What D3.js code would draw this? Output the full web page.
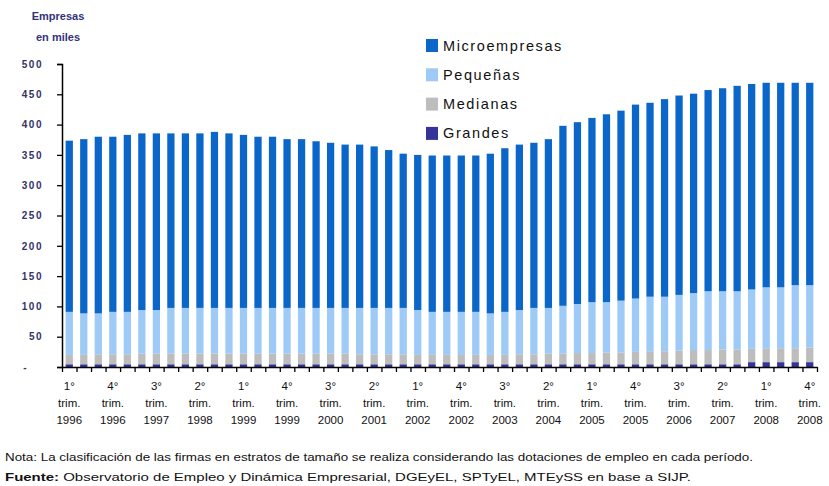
<!DOCTYPE html>
<html>
<head>
<meta charset="utf-8">
<script src="https://cdn.jsdelivr.net/npm/d3@7"></script>
<style>
  body { margin: 0; background: #fff; }
  svg { display: block; font-family: "Liberation Sans", Arial, sans-serif; }
</style>
</head>
<body>
<div id="chart"></div>
<script>
// Quarters 1996 Q1 .. 2008 Q4
const years = [1996, 1997, 1998, 1999, 2000, 2001, 2002, 2003, 2004, 2005, 2006, 2007, 2008];
const quarters = [];
years.forEach(y => [1, 2, 3, 4].forEach(q => quarters.push(`${q}|${y}`)));

// Labelled quarters on the x axis (every third one)
const labelledQuarters = ["1|1996", "4|1996", "3|1997", "2|1998", "1|1999", "4|1999", "3|2000", "2|2001",
  "1|2002", "4|2002", "3|2003", "2|2004", "1|2005", "4|2005", "3|2006", "2|2007", "1|2008", "4|2008"];

// Values in thousands of firms
const grandes = [4.5, 4.5, 4.5, 4.5, 4.5, 4.5, 4.5, 4.5, 4.5, 4.5, 4.5, 4.5, 4.5,
  4.5, 4.5, 4.5, 4.5, 4.5, 4.5, 4.5, 4.5, 4.5, 4.5, 4.5, 4.5, 4.5,
  4.5, 4.5, 4.5, 4.5, 4.5, 4.5, 4.5, 4.5, 4.5, 4.5, 4.5, 4.5, 4.5,
  4.5, 4.5, 4.5, 4.5, 4.5, 4.5, 4.5, 4.5, 8, 8, 8, 8, 8];
const medianas = [15.5, 15.5, 16.5, 16.5, 16.5, 17.5, 17.5, 17.5, 17.5, 17.5, 17.5, 17.5, 17.5,
  17.5, 17.5, 17.5, 17.5, 17.5, 17.5, 17.5, 16.5, 16.5, 16.5, 16.5, 15.5, 15.5,
  15.5, 15.5, 15.5, 15.5, 15.5, 16.5, 16.5, 17.5, 17.5, 18.5, 18.5, 19.5, 19.5,
  20.5, 21.5, 21.5, 22.5, 23.5, 23.5, 24.5, 24.5, 22, 22, 23, 23, 24];
const pequenas = [71, 68.5, 67.5, 70, 70, 72, 72, 75.5, 75.5, 75.5, 75.5, 75.5, 75.5,
  75.5, 75.5, 75.5, 75.5, 75.5, 75.5, 75.5, 76.5, 76.5, 76.5, 76.5, 74, 71,
  71, 71, 71, 68.5, 71, 73, 76.5, 75.5, 79, 81, 84, 83, 85.5,
  88, 90, 90, 92, 94, 97, 96, 96, 98, 101.5, 100.5, 104, 103];
const micro = [282.5, 287.5, 291.5, 289, 292, 291.5, 291.5, 288, 288, 288, 290.5, 288, 285.5,
  282.5, 282.5, 278.5, 278.5, 275, 272.5, 269.5, 269.5, 266.5, 260.5, 254.5, 256, 258,
  258, 258, 258, 263.5, 270, 273, 272.5, 278.5, 297, 300, 304, 310, 313.5,
  320, 320, 326, 329, 329, 332, 335, 339, 339, 337.5, 337.5, 334, 334];

const yTicks = [0, 50, 100, 150, 200, 250, 300, 350, 400, 450, 500];

const seriesNames = ["Grandes", "Medianas", "Pequeñas", "Microempresas"];
const legendOrder = ["Microempresas", "Pequeñas", "Medianas", "Grandes"];
const colors = {
  "Microempresas": "#0a66c8",
  "Pequeñas": "#9dcaf6",
  "Medianas": "#bdbdbd",
  "Grandes": "#333399"
};

const noteText = "Nota: La clasificación de las firmas en estratos de tamaño se realiza considerando las dotaciones de empleo en cada período.";
const sourceBold = "Fuente:";
const sourceText = " Observatorio de Empleo y Dinámica Empresarial, DGEyEL, SPTyEL, MTEySS en base a SIJP.";

// Build table for the stack
const table = quarters.map((q, i) => ({
  q: q,
  "Grandes": grandes[i],
  "Medianas": medianas[i],
  "Pequeñas": pequenas[i],
  "Microempresas": micro[i]
}));

const width = 829;
const height = 486;
const plot = {left: 62, right: 817, top: 64, bottom: 367};

const svg = d3.select("#chart")
  .append("svg")
    .attr("width", width)
    .attr("height", height);

// Scales
const x = d3.scaleBand()
  .domain(quarters)
  .range([plot.left, plot.right])
  .paddingInner(0.5)
  .paddingOuter(0.25);

const xEdges = d3.scaleLinear()
  .domain([0, quarters.length])
  .range([plot.left, plot.right]);

const y = d3.scaleLinear()
  .domain([0, 500])
  .range([plot.bottom, plot.top]);

const stack = d3.stack().keys(seriesNames);
const stacked = stack(table);

// Bars
svg.append("g")
  .selectAll("g")
  .data(stacked)
  .join("g")
    .attr("fill", d => colors[d.key])
  .selectAll("rect")
  .data(d => d)
  .join("rect")
    .attr("x", d => x(d.data.q))
    .attr("width", x.bandwidth())
    .attr("y", d => y(d[1]))
    .attr("height", d => y(d[0]) - y(d[1]));

// Y axis
const yAxis = svg.append("g")
  .attr("class", "axis-y")
  .attr("transform", `translate(${plot.left},0)`)
  .call(d3.axisLeft(y).tickValues(yTicks).tickSize(5).tickPadding(14)
    .tickFormat(d => d === 0 ? "-" : d3.format("d")(d)));
yAxis.select(".domain").attr("stroke", "#000").attr("stroke-width", 1.5);
yAxis.selectAll(".tick line").attr("stroke", "#000").attr("stroke-width", 1.3);
yAxis.selectAll("text")
  .attr("fill", "#333366")
  .style("font-size", "10px")
  .style("font-weight", "bold")
  .attr("letter-spacing", "1.5px");
yAxis.selectAll(".tick").filter(d => d === 0).select("text").attr("x", -34);

// X axis (ticks at bar boundaries)
const xAxis = svg.append("g")
  .attr("class", "axis-x")
  .attr("transform", `translate(0,${plot.bottom})`)
  .call(d3.axisBottom(xEdges).tickValues(d3.range(quarters.length + 1)).tickSize(5).tickSizeOuter(0).tickFormat(""));
xAxis.select(".domain").attr("stroke", "#000").attr("stroke-width", 1.5);
xAxis.selectAll(".tick line").attr("stroke", "#000").attr("stroke-width", 1.3);

// X labels
const xLab = svg.append("g")
  .selectAll("text")
  .data(labelledQuarters)
  .join("text")
    .attr("text-anchor", "middle")
    .attr("fill", "#111")
    .style("font-size", "11.5px")
    .attr("transform", d => `translate(${x(d) + x.bandwidth() / 2},0)`);
xLab.append("tspan").attr("x", 0).attr("y", 390).text(d => d.split("|")[0] + "°");
xLab.append("tspan").attr("x", 0).attr("y", 407).text("trim.");
xLab.append("tspan").attr("x", 0).attr("y", 424).text(d => d.split("|")[1]);

// Y title
svg.append("text")
  .attr("x", 58).attr("y", 20)
  .attr("text-anchor", "middle")
  .attr("fill", "#33337a")
  .style("font-size", "11px")
  .style("font-weight", "bold")
  .text("Empresas");
svg.append("text")
  .attr("x", 58).attr("y", 41)
  .attr("text-anchor", "middle")
  .attr("fill", "#33337a")
  .style("font-size", "11px")
  .style("font-weight", "bold")
  .text("en miles");

// Legend
const legend = svg.append("g")
  .selectAll("g")
  .data(legendOrder)
  .join("g")
    .attr("transform", (d, i) => `translate(426,${39 + i * 29.3})`);
legend.append("rect")
  .attr("width", 12)
  .attr("height", 13)
  .attr("fill", d => colors[d]);
legend.append("text")
  .attr("x", 17)
  .attr("y", 11.5)
  .attr("fill", "#111")
  .style("font-size", "14.5px")
  .attr("letter-spacing", "1.6px")
  .text(d => d);

// Note and source
svg.append("text")
  .attr("x", 5).attr("y", 461)
  .attr("fill", "#111")
  .style("font-size", "10px")
  .attr("textLength", 748)
  .attr("lengthAdjust", "spacingAndGlyphs")
  .text(noteText);
const src = svg.append("text")
  .attr("x", 5).attr("y", 481)
  .attr("fill", "#111")
  .style("font-size", "11px")
  .attr("textLength", 686)
  .attr("lengthAdjust", "spacingAndGlyphs");
src.append("tspan").style("font-weight", "bold").text(sourceBold);
src.append("tspan").text(sourceText);
</script>
</body>
</html>
